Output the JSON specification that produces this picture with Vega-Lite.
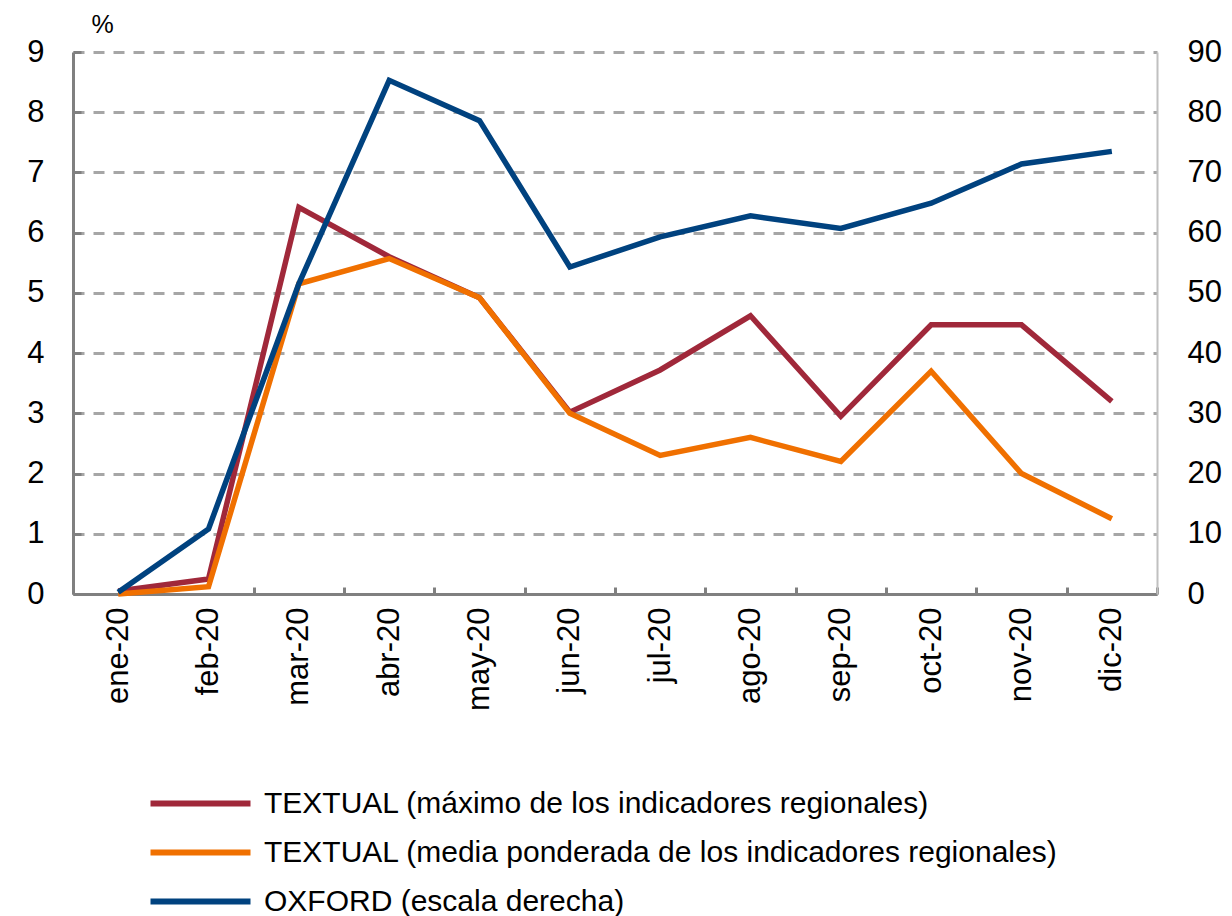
{
  "$schema": "https://vega.github.io/schema/vega-lite/v6.json",
  "autosize": "none",
  "width": 1084,
  "height": 542,
  "padding": {"left": 73, "top": 52, "right": 75, "bottom": 322},
  "background": "white",
  "config": {
    "font": "Liberation Sans",
    "view": {"stroke": null},
    "legend": {"padding": 0}
  },
  "data": {
    "values": [
      {"mes": "ene-20", "serie": "TEXTUAL (máximo de los indicadores regionales)", "valor": 0.05},
      {"mes": "feb-20", "serie": "TEXTUAL (máximo de los indicadores regionales)", "valor": 0.25},
      {"mes": "mar-20", "serie": "TEXTUAL (máximo de los indicadores regionales)", "valor": 6.42},
      {"mes": "abr-20", "serie": "TEXTUAL (máximo de los indicadores regionales)", "valor": 5.6},
      {"mes": "may-20", "serie": "TEXTUAL (máximo de los indicadores regionales)", "valor": 4.92},
      {"mes": "jun-20", "serie": "TEXTUAL (máximo de los indicadores regionales)", "valor": 3.02},
      {"mes": "jul-20", "serie": "TEXTUAL (máximo de los indicadores regionales)", "valor": 3.72},
      {"mes": "ago-20", "serie": "TEXTUAL (máximo de los indicadores regionales)", "valor": 4.62},
      {"mes": "sep-20", "serie": "TEXTUAL (máximo de los indicadores regionales)", "valor": 2.95},
      {"mes": "oct-20", "serie": "TEXTUAL (máximo de los indicadores regionales)", "valor": 4.47},
      {"mes": "nov-20", "serie": "TEXTUAL (máximo de los indicadores regionales)", "valor": 4.47},
      {"mes": "dic-20", "serie": "TEXTUAL (máximo de los indicadores regionales)", "valor": 3.2},
      {"mes": "ene-20", "serie": "TEXTUAL (media ponderada de los indicadores regionales)", "valor": 0.0},
      {"mes": "feb-20", "serie": "TEXTUAL (media ponderada de los indicadores regionales)", "valor": 0.12},
      {"mes": "mar-20", "serie": "TEXTUAL (media ponderada de los indicadores regionales)", "valor": 5.15},
      {"mes": "abr-20", "serie": "TEXTUAL (media ponderada de los indicadores regionales)", "valor": 5.57},
      {"mes": "may-20", "serie": "TEXTUAL (media ponderada de los indicadores regionales)", "valor": 4.92},
      {"mes": "jun-20", "serie": "TEXTUAL (media ponderada de los indicadores regionales)", "valor": 3.0},
      {"mes": "jul-20", "serie": "TEXTUAL (media ponderada de los indicadores regionales)", "valor": 2.3},
      {"mes": "ago-20", "serie": "TEXTUAL (media ponderada de los indicadores regionales)", "valor": 2.6},
      {"mes": "sep-20", "serie": "TEXTUAL (media ponderada de los indicadores regionales)", "valor": 2.2},
      {"mes": "oct-20", "serie": "TEXTUAL (media ponderada de los indicadores regionales)", "valor": 3.7},
      {"mes": "nov-20", "serie": "TEXTUAL (media ponderada de los indicadores regionales)", "valor": 2.0},
      {"mes": "dic-20", "serie": "TEXTUAL (media ponderada de los indicadores regionales)", "valor": 1.25},
      {"mes": "ene-20", "serie": "OXFORD (escala derecha)", "valor": 0.3},
      {"mes": "feb-20", "serie": "OXFORD (escala derecha)", "valor": 10.8},
      {"mes": "mar-20", "serie": "OXFORD (escala derecha)", "valor": 51.5},
      {"mes": "abr-20", "serie": "OXFORD (escala derecha)", "valor": 85.3},
      {"mes": "may-20", "serie": "OXFORD (escala derecha)", "valor": 78.6},
      {"mes": "jun-20", "serie": "OXFORD (escala derecha)", "valor": 54.3},
      {"mes": "jul-20", "serie": "OXFORD (escala derecha)", "valor": 59.3},
      {"mes": "ago-20", "serie": "OXFORD (escala derecha)", "valor": 62.8},
      {"mes": "sep-20", "serie": "OXFORD (escala derecha)", "valor": 60.7},
      {"mes": "oct-20", "serie": "OXFORD (escala derecha)", "valor": 64.9},
      {"mes": "nov-20", "serie": "OXFORD (escala derecha)", "valor": 71.4},
      {"mes": "dic-20", "serie": "OXFORD (escala derecha)", "valor": 73.5}
    ]
  },
  "encoding": {
    "x": {
      "field": "mes",
      "type": "ordinal",
      "sort": null,
      "scale": {"type": "band", "paddingInner": 0, "paddingOuter": 0},
      "axis": {
        "title": null,
        "labelAngle": -90,
        "labelFontSize": 31,
        "labelColor": "#000000",
        "labelPadding": 20,
        "labelBaseline": "middle",
        "labelAlign": "right",
        "tickBand": "extent",
        "tickSize": -7,
        "tickWidth": 3,
        "tickColor": "#808080",
        "domainColor": "#808080",
        "domainWidth": 3,
        "grid": false
      }
    },
    "color": {
      "field": "serie",
      "type": "nominal",
      "scale": {
        "domain": [
          "TEXTUAL (máximo de los indicadores regionales)",
          "TEXTUAL (media ponderada de los indicadores regionales)",
          "OXFORD (escala derecha)"
        ],
        "range": ["#a0283a", "#f07000", "#00427f"]
      },
      "legend": {
        "title": null,
        "orient": "none",
        "legendX": 112,
        "legendY": 736,
        "direction": "vertical",
        "symbolType": "M-4,0H4",
        "symbolSize": 625,
        "symbolStrokeWidth": 6,
        "symbolFillColor": "transparent",
        "labelFontSize": 30,
        "labelColor": "#000000",
        "labelOffset": 48,
        "labelLimit": 1000,
        "rowPadding": 18
      }
    }
  },
  "layer": [
    {
      "transform": [{"filter": "datum.serie !== 'OXFORD (escala derecha)'"}],
      "mark": {"type": "line", "strokeWidth": 5.5},
      "encoding": {
        "y": {
          "field": "valor",
          "type": "quantitative",
          "scale": {"domain": [0, 9], "nice": false},
          "axis": {
            "title": "%",
            "titleAngle": 0,
            "titleAlign": "left",
            "titleBaseline": "alphabetic",
            "titleX": 18,
            "titleY": -20,
            "titleFontSize": 25,
            "titleFontWeight": "normal",
            "titleColor": "#000000",
            "values": [0, 1, 2, 3, 4, 5, 6, 7, 8, 9],
            "labelFontSize": 31,
            "labelColor": "#000000",
            "labelPadding": 37,
            "tickSize": -8,
            "tickWidth": 3,
            "tickColor": "#808080",
            "domainColor": "#808080",
            "domainWidth": 3,
            "grid": true,
            "gridColor": "#a6a6a6",
            "gridWidth": 3,
            "gridDash": [11, 9]
          }
        }
      }
    },
    {
      "transform": [{"filter": "datum.serie === 'OXFORD (escala derecha)'"}],
      "mark": {"type": "line", "strokeWidth": 5.5},
      "encoding": {
        "y": {
          "field": "valor",
          "type": "quantitative",
          "scale": {"domain": [0, 90], "nice": false},
          "axis": {
            "orient": "right",
            "title": null,
            "values": [0, 10, 20, 30, 40, 50, 60, 70, 80, 90],
            "labelFontSize": 31,
            "labelColor": "#000000",
            "labelPadding": 30,
            "ticks": false,
            "domainColor": "#c0c0c0",
            "domainWidth": 2,
            "grid": false
          }
        }
      }
    }
  ],
  "resolve": {"scale": {"y": "independent"}}
}
